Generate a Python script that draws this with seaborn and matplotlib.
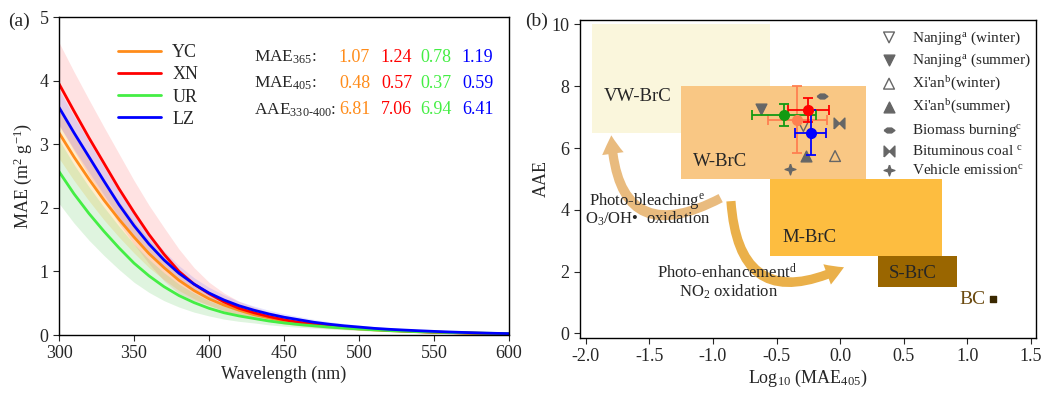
import pandas as pd
import matplotlib.pyplot as plt
import seaborn as sns
from matplotlib.patches import Rectangle, FancyArrowPatch
from matplotlib.path import Path

# ---- panel (a): MAE spectra ----
wavelength = list(range(300, 601, 10))
sites = ['YC', 'XN', 'UR', 'LZ']
yc = [3.18, 2.80, 2.45, 2.12, 1.82, 1.54, 1.28, 1.06, 0.86, 0.70, 0.57, 0.47, 0.39, 0.32, 0.27, 0.22,
      0.19, 0.16, 0.135, 0.115, 0.097, 0.082, 0.07, 0.06, 0.05, 0.043, 0.036, 0.03, 0.025, 0.021, 0.018]
xn = [3.95, 3.52, 3.10, 2.70, 2.30, 1.93, 1.58, 1.27, 1.00, 0.80, 0.65, 0.52, 0.42, 0.35, 0.29, 0.24,
      0.20, 0.17, 0.145, 0.125, 0.105, 0.09, 0.075, 0.065, 0.055, 0.045, 0.04, 0.033, 0.028, 0.023, 0.02]
ur = [2.57, 2.22, 1.91, 1.63, 1.37, 1.13, 0.93, 0.76, 0.62, 0.51, 0.42, 0.35, 0.30, 0.26, 0.22, 0.19,
      0.165, 0.145, 0.125, 0.11, 0.095, 0.082, 0.07, 0.06, 0.052, 0.045, 0.039, 0.034, 0.03, 0.026, 0.023]
lz = [3.58, 3.18, 2.80, 2.42, 2.05, 1.72, 1.43, 1.18, 0.97, 0.80, 0.66, 0.55, 0.46, 0.39, 0.33, 0.28,
      0.24, 0.20, 0.17, 0.145, 0.125, 0.105, 0.09, 0.078, 0.067, 0.057, 0.048, 0.04, 0.033, 0.027, 0.022]
yc_err = [0.40, 0.37, 0.34, 0.31, 0.28, 0.25, 0.22, 0.19, 0.16, 0.13, 0.11, 0.09, 0.075, 0.065, 0.055, 0.047,
          0.04, 0.035, 0.03, 0.026, 0.022, 0.019, 0.016, 0.013, 0.011, 0.009, 0.008, 0.007, 0.006, 0.005, 0.004]
xn_err = [0.65, 0.62, 0.60, 0.57, 0.55, 0.50, 0.46, 0.42, 0.35, 0.26, 0.18, 0.14, 0.11, 0.09, 0.075, 0.065,
          0.055, 0.047, 0.04, 0.034, 0.029, 0.025, 0.021, 0.018, 0.015, 0.012, 0.01, 0.008, 0.007, 0.006, 0.005]
ur_err = [0.50, 0.46, 0.42, 0.38, 0.34, 0.30, 0.26, 0.22, 0.18, 0.15, 0.12, 0.10, 0.085, 0.07, 0.06, 0.05,
          0.043, 0.037, 0.032, 0.027, 0.023, 0.02, 0.017, 0.014, 0.012, 0.01, 0.008, 0.007, 0.006, 0.005, 0.004]
lz_err = [0.28, 0.26, 0.24, 0.22, 0.20, 0.18, 0.16, 0.14, 0.12, 0.10, 0.09, 0.08, 0.07, 0.065, 0.06, 0.055,
          0.05, 0.045, 0.04, 0.035, 0.03, 0.027, 0.024, 0.021, 0.018, 0.015, 0.012, 0.01, 0.008, 0.006, 0.005]
mae365 = ['1.07', '1.24', '0.78', '1.19']
mae405 = ['0.48', '0.57', '0.37', '0.59']
aae = ['6.81', '7.06', '6.94', '6.41']

# ---- panel (b): AAE vs log10(MAE405) ----
box_names = ['VW-BrC', 'W-BrC', 'M-BrC', 'S-BrC']
box_x0 = [-1.95, -1.25, -0.55, 0.30]
box_x1 = [-0.55, 0.20, 0.80, 0.92]
box_y0 = [6.5, 5.0, 2.5, 1.5]
box_y1 = [10.0, 8.0, 5.0, 2.5]
site_logmae = [-0.336, -0.25, -0.443, -0.231]
site_aae = [6.92, 7.23, 7.06, 6.49]
site_xerr = [0.23, 0.16, 0.25, 0.12]
site_yerr = [1.08, 0.40, 0.36, 0.73]
lit_labels = ["Nanjing$^{a}$ (winter)", "Nanjing$^{a}$ (summer)", "Xi'an$^{b}$(winter)",
              "Xi'an$^{b}$(summer)", "Biomass burning$^{c}$", "Bituminous coal $^{c}$",
              "Vehicle emission$^{c}$"]
lit_logmae = [-0.289, -0.624, -0.04, -0.27, -0.145, -0.006, -0.394]
lit_aae = [6.71, 7.26, 5.74, 5.74, 7.69, 6.80, 5.31]
bc_logmae = [1.20]
bc_aae = [1.11]

sns.set_style('ticks')
plt.rcParams['font.family'] = ['Liberation Serif', 'DejaVu Serif']
plt.rcParams['mathtext.fontset'] = 'custom'
plt.rcParams['mathtext.rm'] = 'Liberation Serif'
plt.rcParams['mathtext.it'] = 'Liberation Serif'
plt.rcParams['axes.unicode_minus'] = False

line_colors = ['#ff8c1a', '#ff0000', '#44ee44', '#0000ff']
band_colors = ['#ffcf70', '#ff6060', '#60cc60', '#7070ff']
band_alpha = [0.35, 0.18, 0.2, 0.18]

fig = plt.figure(figsize=(10.5, 3.94), dpi=100)
ax1 = fig.add_axes([0.0562, 0.1497, 0.4286, 0.807])
ax2 = fig.add_axes([0.5524, 0.1429, 0.4343, 0.806])

series = [yc, xn, ur, lz]
errs = [yc_err, xn_err, ur_err, lz_err]
for vals, err, c, a in zip(series, errs, band_colors, band_alpha):
    lo = [v - e for v, e in zip(vals, err)]
    hi = [v + e for v, e in zip(vals, err)]
    ax1.fill_between(wavelength, lo, hi, color=c, alpha=a, lw=0)

df = pd.DataFrame({'wl': wavelength * 4,
                   'mae': yc + xn + ur + lz,
                   'site': [s for s in sites for _ in wavelength]})
sns.lineplot(data=df, x='wl', y='mae', hue='site', hue_order=sites,
             palette=line_colors, lw=2, ax=ax1)
h, l = ax1.get_legend_handles_labels()
ax1.legend(h, l, loc='upper left', bbox_to_anchor=(0.095, 0.965), frameon=False,
           fontsize=13, handlelength=2.4, handletextpad=0.6, labelspacing=0.28)

ax1.set_xlim(300, 600)
ax1.set_ylim(0, 5)
ax1.set_xticks(range(300, 601, 50))
ax1.set_yticks(range(0, 6))
ax1.set_xlabel('Wavelength (nm)', fontsize=13, labelpad=2)
ax1.set_ylabel('MAE (m$^2$ g$^{-1}$)', fontsize=13, labelpad=4)
ax1.tick_params(labelsize=13, direction='out', length=4)

row_names = ['MAE$_{365}$:', 'MAE$_{405}$:', 'AAE$_{330\u2010400}$:']
row_y = [4.37, 3.96, 3.54]
col_x = [497, 525, 551, 579]
for name, yv, vals in zip(row_names, row_y, [mae365, mae405, aae]):
    ax1.text(430, yv, name, fontsize=12.5, va='center', ha='left')
    for xv, v, c in zip(col_x, vals, line_colors):
        ax1.text(xv, yv, v, fontsize=13, va='center', ha='center', color=c)

# panel (b)
box_colors = ['#faf6dc', '#f9c784', '#fdbd40', '#9a6600']
box_lx = [-1.86, -1.16, -0.45, 0.385]
box_ly = [7.66, 5.56, 3.1, 1.95]
for x0, x1, y0, y1, c, name, lx, ly in zip(box_x0, box_x1, box_y0, box_y1, box_colors,
                                           box_names, box_lx, box_ly):
    ax2.add_patch(Rectangle((x0, y0), x1 - x0, y1 - y0, color=c, lw=0, zorder=1))
    ax2.text(lx, ly, name, fontsize=13.5, va='center', ha='left', zorder=3)

site_colors = ['#ff8050', '#ff0000', '#129a12', '#0000ff']
for x, y, xe, ye, c in zip(site_logmae, site_aae, site_xerr, site_yerr, site_colors):
    ax2.errorbar(x, y, xerr=xe, yerr=ye, fmt='o', color=c, ms=7, capsize=3.5,
                 elinewidth=1.3, capthick=1.3, zorder=5)

diamond = Path([(-1, 0), (-0.4, 0.45), (0.4, 0.45), (1, 0), (0.4, -0.45), (-0.4, -0.45), (-1, 0)])
bowtie = Path([(-1, -1), (-1, 1), (0, 0), (1, 1), (1, -1), (0, 0), (-1, -1)])
star4 = Path([(0, 1), (0.25, 0.25), (1, 0), (0.25, -0.25), (0, -1), (-0.25, -0.25),
              (-1, 0), (-0.25, 0.25), (0, 1)])
lit_markers = ['v', 'v', '^', '^', diamond, bowtie, star4]
lit_filled = [False, True, False, True, True, True, True]
gray = '#666666'
for x, y, m, f, lab in zip(lit_logmae, lit_aae, lit_markers, lit_filled, lit_labels):
    ax2.scatter(x, y, marker=m, s=60, facecolor=gray if f else 'none',
                edgecolor=gray, linewidths=1.0, zorder=4, label=lab)

ax2.scatter(bc_logmae, bc_aae, marker='s', s=22, color='#3a2800', zorder=4)
ax2.text(1.04, 1.11, 'BC', fontsize=14, color='#6b4a10', va='center', ha='center')

arrow1 = FancyArrowPatch((-0.92, 4.42), (-1.80, 6.5), connectionstyle='arc3,rad=-0.8',
                         arrowstyle='simple,head_width=1.3,head_length=1.1,tail_width=0.55',
                         mutation_scale=12, color='#e9bb7e', lw=0, zorder=2)
arrow2 = FancyArrowPatch((-0.86, 4.37), (0.05, 2.18), connectionstyle='arc3,rad=0.75',
                         arrowstyle='simple,head_width=1.3,head_length=1.1,tail_width=0.55',
                         mutation_scale=12, color='#eab04a', lw=0, zorder=2)
ax2.add_patch(arrow1)
ax2.add_patch(arrow2)

ax2.text(-1.52, 4.30, 'Photo-bleaching$^{e}$', fontsize=12, ha='center', va='center', zorder=3)
ax2.text(-1.51, 3.72, 'O$_3$/OH\u2022  oxidation', fontsize=12, ha='center', va='center', zorder=3)
ax2.text(-0.89, 1.96, 'Photo-enhancement$^{d}$', fontsize=12, ha='center', va='center', zorder=3)
ax2.text(-0.88, 1.36, 'NO$_2$ oxidation', fontsize=12, ha='center', va='center', zorder=3)

ax2.legend(loc='upper right', bbox_to_anchor=(1.012, 1.005), frameon=False, fontsize=11,
           handletextpad=0.5, labelspacing=0.35, borderaxespad=0.3)

ax2.set_xlim(-2.045, 1.54)
ax2.set_ylim(-0.14, 10.14)
ax2.set_xticks([-2.0, -1.5, -1.0, -0.5, 0.0, 0.5, 1.0, 1.5])
ax2.set_xticklabels(['-2.0', '-1.5', '-1.0', '-0.5', '0.0', '0.5', '1.0', '1.5'])
ax2.set_yticks(range(0, 11, 2))
ax2.set_xlabel('Log$_{10}$ (MAE$_{405}$)', fontsize=13, labelpad=2)
ax2.set_ylabel('AAE', fontsize=13, labelpad=1)
ax2.tick_params(labelsize=13, direction='out', length=4)

for ax in (ax1, ax2):
    for s in ax.spines.values():
        s.set_visible(True)
        s.set_linewidth(1.0)
        s.set_color('black')

fig.text(0.008, 0.945, '(a)', fontsize=14, va='center')
fig.text(0.5, 0.945, '(b)', fontsize=14, va='center')

fig.savefig('out.png', dpi=100)
